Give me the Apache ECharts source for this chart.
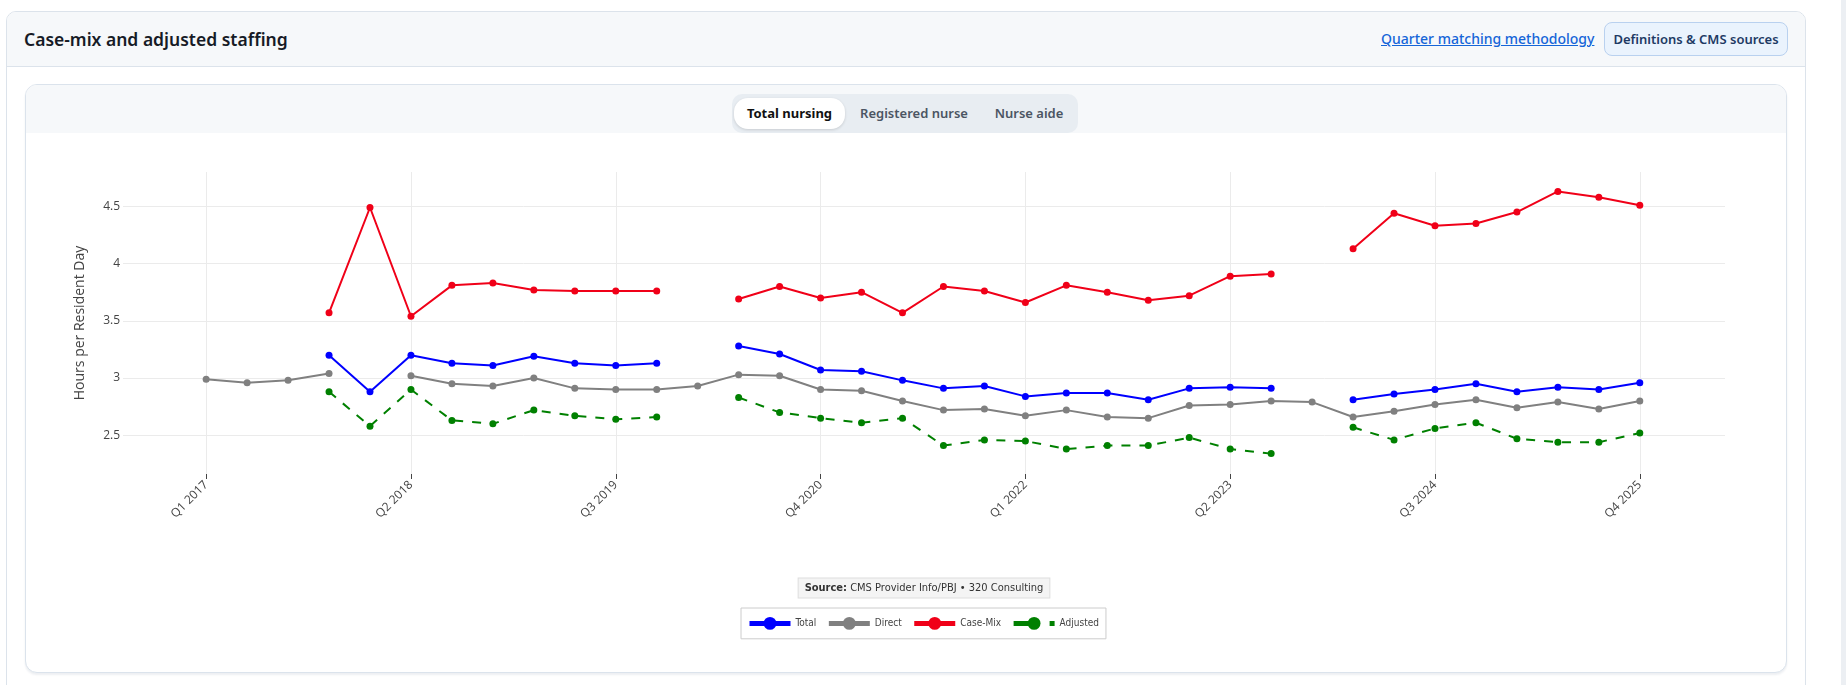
<!DOCTYPE html>
<html>
<head>
<meta charset="utf-8">
<title>Case-mix and adjusted staffing</title>
<script src="https://cdn.jsdelivr.net/npm/echarts@6/dist/echarts.min.js"></script>
<style>
  html, body { margin: 0; padding: 0; background: #fff; width: 1846px; height: 685px; overflow: hidden;
    font-family: "Segoe UI", "Noto Sans", "Open Sans", sans-serif; }
  .abs { position: absolute; box-sizing: border-box; }
  .scroll { left: 1841px; top: 0; width: 5px; height: 685px; background: #eceff3; }
  .outer { left: 6px; top: 11px; width: 1800px; height: 720px; border: 1px solid #dce3eb; border-radius: 10px; background: #fff; }
  .outer-head { left: 7px; top: 12px; width: 1798px; height: 55px; background: #f6f8fa; border-bottom: 1px solid #dce3eb; border-radius: 9px 9px 0 0; }
  .title { left: 24px; top: 26px; font-size: 17.5px; font-weight: 600; color: #161b26; line-height: 26px; white-space: nowrap; }
  .link { left: 1381px; top: 28px; font-size: 14px; font-weight: 500; color: #1565d8; text-decoration: underline; line-height: 22px; white-space: nowrap; }
  .btn { left: 1604px; top: 22px; width: 184px; height: 34px; border: 1px solid #b9d1ef; border-radius: 8px; background: #eaf3fd;
    color: #1e3a64; font-size: 13px; font-weight: 600; line-height: 32px; text-align: center; white-space: nowrap; }
  .inner { left: 25px; top: 84px; width: 1762px; height: 589px; border: 1px solid #dbe3ec; border-radius: 12px; background: #fff;
    box-shadow: 0 2px 2px rgba(20, 50, 90, 0.08); overflow: hidden; }
  .band { left: 26px; top: 85px; width: 1760px; height: 48px; background: #f6f8fa; border-radius: 11px 11px 0 0; }
  .tabs { left: 732px; top: 94px; width: 346px; height: 39px; background: #e8edf2; border-radius: 10px; }
  .tab { top: 98px; height: 31px; line-height: 31px; font-size: 13px; font-weight: 600; color: #4b5563; text-align: center; white-space: nowrap; }
  .tab.on { left: 734px; width: 111px; background: #fff; border-radius: 14px; color: #111; font-weight: 700;
    box-shadow: 0 1px 3px rgba(0, 0, 0, 0.14); }
  #chart { left: 26px; top: 133px; width: 1760px; height: 539px; }
</style>
</head>
<body>
<div class="abs scroll"></div>
<div class="abs outer"></div>
<div class="abs outer-head"></div>
<div class="abs title">Case-mix and adjusted staffing</div>
<div class="abs link">Quarter matching methodology</div>
<div class="abs btn">Definitions &amp; CMS sources</div>
<div class="abs inner"></div>
<div class="abs band"></div>
<div class="abs tabs"></div>
<div class="abs tab on">Total nursing</div>
<div class="abs tab" style="left:853px;width:122px;">Registered nurse</div>
<div class="abs tab" style="left:982px;width:94px;">Nurse aide</div>
<div class="abs" id="chart"></div>
<script>
var quarters = [
  'Q1 2017', 'Q2 2017', 'Q3 2017', 'Q4 2017',
  'Q1 2018', 'Q2 2018', 'Q3 2018', 'Q4 2018',
  'Q1 2019', 'Q2 2019', 'Q3 2019', 'Q4 2019',
  'Q1 2020', 'Q2 2020', 'Q3 2020', 'Q4 2020',
  'Q1 2021', 'Q2 2021', 'Q3 2021', 'Q4 2021',
  'Q1 2022', 'Q2 2022', 'Q3 2022', 'Q4 2022',
  'Q1 2023', 'Q2 2023', 'Q3 2023', 'Q4 2023',
  'Q1 2024', 'Q2 2024', 'Q3 2024', 'Q4 2024',
  'Q1 2025', 'Q2 2025', 'Q3 2025', 'Q4 2025'
];
var tickLabels = ['Q1 2017', 'Q2 2018', 'Q3 2019', 'Q4 2020', 'Q1 2022', 'Q2 2023', 'Q3 2024', 'Q4 2025'];
var yTicks = [2.5, 3, 3.5, 4, 4.5];

// hours per resident day, null = no data for that quarter
var total = [null, null, null, 3.20, 2.88, 3.20, 3.13, 3.11, 3.19, 3.13, 3.11, 3.13,
  null, 3.28, 3.21, 3.07, 3.06, 2.98, 2.91, 2.93, 2.84, 2.87, 2.87, 2.81,
  2.91, 2.92, 2.91, null, 2.81, 2.86, 2.90, 2.95, 2.88, 2.92, 2.90, 2.96];
var direct = [2.99, 2.96, 2.98, 3.04, null, 3.02, 2.95, 2.93, 3.00, 2.91, 2.90, 2.90,
  2.93, 3.03, 3.02, 2.90, 2.89, 2.80, 2.72, 2.73, 2.67, 2.72, 2.66, 2.65,
  2.76, 2.77, 2.80, 2.79, 2.66, 2.71, 2.77, 2.81, 2.74, 2.79, 2.73, 2.80];
var caseMix = [null, null, null, 3.57, 4.49, 3.54, 3.81, 3.83, 3.77, 3.76, 3.76, 3.76,
  null, 3.69, 3.80, 3.70, 3.75, 3.57, 3.80, 3.76, 3.66, 3.81, 3.75, 3.68,
  3.72, 3.89, 3.91, null, 4.13, 4.44, 4.33, 4.35, 4.45, 4.63, 4.58, 4.51];
var adjusted = [null, null, null, 2.88, 2.58, 2.90, 2.63, 2.60, 2.72, 2.67, 2.64, 2.66,
  null, 2.83, 2.70, 2.65, 2.61, 2.65, 2.41, 2.46, 2.45, 2.38, 2.41, 2.41,
  2.48, 2.38, 2.34, null, 2.57, 2.46, 2.56, 2.61, 2.47, 2.44, 2.44, 2.52];

var tickIdx = tickLabels.map(function (q) { return quarters.indexOf(q); });

function pairs(arr) {
  return arr.map(function (v, i) { return [i, v === null ? '-' : v]; });
}

function lineSeries(name, arr, color, dash) {
  return {
    name: name,
    type: 'line',
    data: pairs(arr),
    symbol: 'circle',
    symbolSize: 7,
    showSymbol: true,
    connectNulls: false,
    lineStyle: { color: color, width: 2, type: dash || 'solid' },
    itemStyle: { color: color },
    emphasis: { disabled: true }
  };
}

var tahoma = '"DejaVu Sans Condensed", "Liberation Sans", sans-serif';

var chart = echarts.init(document.getElementById('chart'));
chart.setOption({
  animation: false,
  grid: { left: 97, top: 39, width: 1602, height: 302, containLabel: false },
  xAxis: {
    type: 'value',
    min: -2.03,
    max: 37.08,
    axisLine: { show: false },
    axisTick: { show: true, length: 5, customValues: tickIdx, lineStyle: { color: '#444' } },
    axisLabel: {
      customValues: tickIdx,
      rotate: 45,
      margin: 9,
      fontFamily: 'Open Sans',
      fontSize: 12,
      color: '#444',
      formatter: function (v) { return quarters[v]; }
    },
    splitLine: { show: true, lineStyle: { color: '#ebebeb', width: 1 } }
  },
  yAxis: {
    type: 'value',
    min: 2.162,
    max: 4.80,
    name: 'Hours per Resident Day',
    nameLocation: 'middle',
    nameGap: 36,
    nameTextStyle: { fontFamily: 'Open Sans', fontSize: 14, color: '#444' },
    axisLine: { show: false },
    axisTick: { show: false, customValues: yTicks },
    axisLabel: {
      customValues: yTicks,
      margin: 3,
      fontFamily: 'Open Sans',
      fontSize: 12,
      color: '#444',
      formatter: function (v) { return String(v); }
    },
    splitLine: { show: true, lineStyle: { color: '#ebebeb', width: 1 } }
  },
  legend: {
    left: 715,
    top: 475,
    orient: 'horizontal',
    itemWidth: 41,
    itemHeight: 16,
    itemGap: 10,
    padding: [9, 7, 9, 6],
    borderColor: '#cccccc',
    borderWidth: 1,
    backgroundColor: '#fff',
    selectedMode: false,
    lineStyle: { width: 5 },
    textStyle: { fontFamily: tahoma, fontSize: 10, color: '#444' },
    data: ['Total', 'Direct', 'Case-Mix', { name: 'Adjusted', lineStyle: { width: 5, type: [18, 18] } }]
  },
  graphic: [{
    type: 'text',
    x: 898,
    y: 455,
    style: {
      text: '{b|Source:} CMS Provider Info/PBJ \u2022 320 Consulting',
      align: 'center',
      verticalAlign: 'middle',
      font: '11px ' + tahoma,
      fill: '#333',
      backgroundColor: '#f4f4f4',
      borderColor: '#dedede',
      borderWidth: 1,
      padding: [4, 6, 4, 6],
      rich: {
        b: { fontWeight: 'bold', fontSize: 11, fontFamily: tahoma, fill: '#333', color: '#333' }
      }
    }
  }],
  series: [
    lineSeries('Total', total, '#0000ff'),
    lineSeries('Direct', direct, '#808080'),
    lineSeries('Case-Mix', caseMix, '#f00018'),
    lineSeries('Adjusted', adjusted, '#008000', [9, 9])
  ]
});
</script>
</body>
</html>
